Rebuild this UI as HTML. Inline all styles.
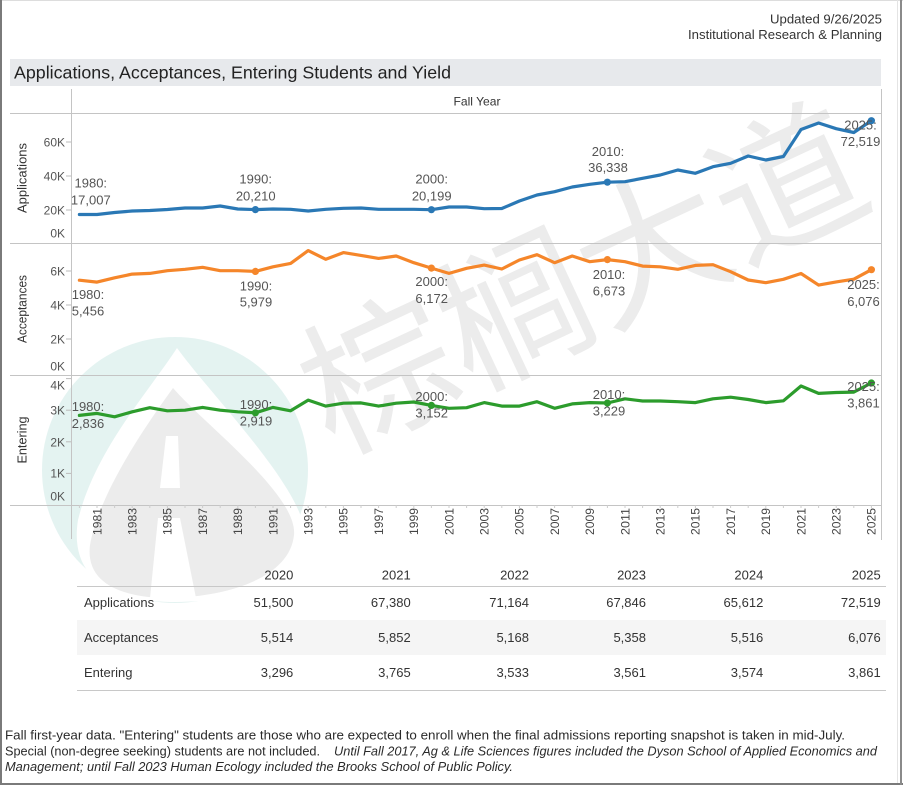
<!DOCTYPE html>
<html><head><meta charset="utf-8"><style>
html,body{margin:0;padding:0;background:#fff;}
svg{display:block;}
text{font-family:"Liberation Sans",Arial,sans-serif;}
</style></head><body>
<svg width="903" height="785" viewBox="0 0 903 785" xmlns="http://www.w3.org/2000/svg">
<rect width="903" height="785" fill="#fff"/>

<!-- logo watermark -->
<g opacity="0.75">
<circle cx="175" cy="470" r="133" fill="#dcefed"/>
<path d="M177,348 C150,390 95,450 78,520 C70,570 100,600 170,602 C240,602 300,585 305,540 C310,495 215,400 177,348 Z" fill="#ffffff"/>
<path d="M173,388 C150,420 100,490 90,545 C85,585 125,598 170,598 C235,596 290,575 294,535 C298,495 205,425 173,388 Z" fill="#e6e6e6"/>
<path d="M166,436 L178,436 L180,488 L160,488 Z" fill="#ffffff"/>
<path d="M158,518 L180,518 L196,598 L150,598 Z" fill="#ffffff"/>
</g>

<!-- text watermark -->
<text x="579" y="270" font-size="150" fill="#ececec" text-anchor="middle" dominant-baseline="central" transform="rotate(-25 579 270)" style="font-family:'Noto Sans CJK SC','WenQuanYi Zen Hei',sans-serif">棕榈大道</text>

<!-- frame -->
<rect x="0" y="0" width="903" height="1" fill="#dddddd"/>
<rect x="0" y="0" width="2" height="785" fill="#7a7a7a"/>
<rect x="0" y="783" width="903" height="2" fill="#7a7a7a"/>
<rect x="897" y="0" width="1" height="783" fill="#e4e4e4"/>
<rect x="900" y="0" width="2" height="785" fill="#8a8a8a"/>

<!-- header -->
<text x="882" y="23.5" font-size="13" fill="#333" text-anchor="end" textLength="112" lengthAdjust="spacingAndGlyphs">Updated 9/26/2025</text>
<text x="882" y="39" font-size="13" fill="#333" text-anchor="end" textLength="194" lengthAdjust="spacingAndGlyphs">Institutional Research &amp; Planning</text>

<rect x="10" y="59" width="871" height="27" fill="#e7e9ec"/>
<text x="14" y="78.5" font-size="17.5" fill="#222" textLength="437" lengthAdjust="spacingAndGlyphs">Applications, Acceptances, Entering Students and Yield</text>

<!-- grid structure -->
<g stroke="#c4c4c4" stroke-width="1" fill="none">
<line x1="71.5" y1="89" x2="71.5" y2="539"/>
<line x1="881.5" y1="89" x2="881.5" y2="540"/>
<line x1="10" y1="113.5" x2="882" y2="113.5"/>
<line x1="10" y1="243.5" x2="882" y2="243.5"/>
<line x1="10" y1="375.5" x2="882" y2="375.5"/>
<line x1="10" y1="505.5" x2="882" y2="505.5"/>
</g>
<text x="477" y="105.3" font-size="12" fill="#333" text-anchor="middle" textLength="47" lengthAdjust="spacingAndGlyphs">Fall Year</text>

<!-- axis titles -->
<text transform="translate(26.5,178) rotate(-90)" font-size="12.5" fill="#333" text-anchor="middle" textLength="70" lengthAdjust="spacingAndGlyphs">Applications</text>
<text transform="translate(26.5,309) rotate(-90)" font-size="12.5" fill="#333" text-anchor="middle" textLength="68" lengthAdjust="spacingAndGlyphs">Acceptances</text>
<text transform="translate(26.5,440) rotate(-90)" font-size="12.5" fill="#333" text-anchor="middle" textLength="47" lengthAdjust="spacingAndGlyphs">Entering</text>

<!-- y ticks -->
<g stroke="#bbb" stroke-width="1">
<line x1="66" y1="142" x2="71" y2="142"/><line x1="66" y1="176" x2="71" y2="176"/><line x1="66" y1="210" x2="71" y2="210"/>
<line x1="66" y1="271" x2="71" y2="271"/><line x1="66" y1="305" x2="71" y2="305"/><line x1="66" y1="339" x2="71" y2="339"/>
<line x1="66" y1="378.6" x2="71" y2="378.6"/><line x1="66" y1="410.2" x2="71" y2="410.2"/><line x1="66" y1="441.8" x2="71" y2="441.8"/><line x1="66" y1="473.4" x2="71" y2="473.4"/>
</g>
<g font-size="12" fill="#555" text-anchor="end">
<text x="65" y="146.3">60K</text><text x="65" y="180.3">40K</text><text x="65" y="214.3">20K</text><text x="65" y="237.3">0K</text>
<text x="65" y="275.3">6K</text><text x="65" y="309.3">4K</text><text x="65" y="343.3">2K</text><text x="65" y="370.3">0K</text>
<text x="65" y="389.3">4K</text><text x="65" y="414.3">3K</text><text x="65" y="446.3">2K</text><text x="65" y="477.6">1K</text><text x="65" y="500.3">0K</text>
</g>

<!-- x ticks -->
<g stroke="#ccc" stroke-width="1">
<line x1="79.4" y1="505" x2="79.4" y2="508"/><line x1="97" y1="505" x2="97" y2="508"/><line x1="114.6" y1="505" x2="114.6" y2="508"/><line x1="132.2" y1="505" x2="132.2" y2="508"/><line x1="149.8" y1="505" x2="149.8" y2="508"/><line x1="167.4" y1="505" x2="167.4" y2="508"/><line x1="185" y1="505" x2="185" y2="508"/><line x1="202.6" y1="505" x2="202.6" y2="508"/><line x1="220.2" y1="505" x2="220.2" y2="508"/><line x1="237.8" y1="505" x2="237.8" y2="508"/><line x1="255.4" y1="505" x2="255.4" y2="508"/><line x1="273" y1="505" x2="273" y2="508"/><line x1="290.6" y1="505" x2="290.6" y2="508"/><line x1="308.2" y1="505" x2="308.2" y2="508"/><line x1="325.8" y1="505" x2="325.8" y2="508"/><line x1="343.4" y1="505" x2="343.4" y2="508"/><line x1="361" y1="505" x2="361" y2="508"/><line x1="378.6" y1="505" x2="378.6" y2="508"/><line x1="396.2" y1="505" x2="396.2" y2="508"/><line x1="413.8" y1="505" x2="413.8" y2="508"/><line x1="431.4" y1="505" x2="431.4" y2="508"/><line x1="449" y1="505" x2="449" y2="508"/><line x1="466.6" y1="505" x2="466.6" y2="508"/><line x1="484.2" y1="505" x2="484.2" y2="508"/><line x1="501.8" y1="505" x2="501.8" y2="508"/><line x1="519.4" y1="505" x2="519.4" y2="508"/><line x1="537" y1="505" x2="537" y2="508"/><line x1="554.6" y1="505" x2="554.6" y2="508"/><line x1="572.2" y1="505" x2="572.2" y2="508"/><line x1="589.8" y1="505" x2="589.8" y2="508"/><line x1="607.4" y1="505" x2="607.4" y2="508"/><line x1="625" y1="505" x2="625" y2="508"/><line x1="642.6" y1="505" x2="642.6" y2="508"/><line x1="660.2" y1="505" x2="660.2" y2="508"/><line x1="677.8" y1="505" x2="677.8" y2="508"/><line x1="695.4" y1="505" x2="695.4" y2="508"/><line x1="713" y1="505" x2="713" y2="508"/><line x1="730.6" y1="505" x2="730.6" y2="508"/><line x1="748.2" y1="505" x2="748.2" y2="508"/><line x1="765.8" y1="505" x2="765.8" y2="508"/><line x1="783.4" y1="505" x2="783.4" y2="508"/><line x1="801" y1="505" x2="801" y2="508"/><line x1="818.6" y1="505" x2="818.6" y2="508"/><line x1="836.2" y1="505" x2="836.2" y2="508"/><line x1="853.8" y1="505" x2="853.8" y2="508"/><line x1="871.4" y1="505" x2="871.4" y2="508"/>
</g>
<g font-size="12" fill="#444">
<text transform="translate(101.3,535) rotate(-90)" textLength="27" lengthAdjust="spacingAndGlyphs">1981</text>
<text transform="translate(136.5,535) rotate(-90)" textLength="27" lengthAdjust="spacingAndGlyphs">1983</text>
<text transform="translate(171.7,535) rotate(-90)" textLength="27" lengthAdjust="spacingAndGlyphs">1985</text>
<text transform="translate(206.9,535) rotate(-90)" textLength="27" lengthAdjust="spacingAndGlyphs">1987</text>
<text transform="translate(242.1,535) rotate(-90)" textLength="27" lengthAdjust="spacingAndGlyphs">1989</text>
<text transform="translate(277.3,535) rotate(-90)" textLength="27" lengthAdjust="spacingAndGlyphs">1991</text>
<text transform="translate(312.5,535) rotate(-90)" textLength="27" lengthAdjust="spacingAndGlyphs">1993</text>
<text transform="translate(347.7,535) rotate(-90)" textLength="27" lengthAdjust="spacingAndGlyphs">1995</text>
<text transform="translate(382.9,535) rotate(-90)" textLength="27" lengthAdjust="spacingAndGlyphs">1997</text>
<text transform="translate(418.1,535) rotate(-90)" textLength="27" lengthAdjust="spacingAndGlyphs">1999</text>
<text transform="translate(453.3,535) rotate(-90)" textLength="27" lengthAdjust="spacingAndGlyphs">2001</text>
<text transform="translate(488.5,535) rotate(-90)" textLength="27" lengthAdjust="spacingAndGlyphs">2003</text>
<text transform="translate(523.7,535) rotate(-90)" textLength="27" lengthAdjust="spacingAndGlyphs">2005</text>
<text transform="translate(558.9,535) rotate(-90)" textLength="27" lengthAdjust="spacingAndGlyphs">2007</text>
<text transform="translate(594.1,535) rotate(-90)" textLength="27" lengthAdjust="spacingAndGlyphs">2009</text>
<text transform="translate(629.3,535) rotate(-90)" textLength="27" lengthAdjust="spacingAndGlyphs">2011</text>
<text transform="translate(664.5,535) rotate(-90)" textLength="27" lengthAdjust="spacingAndGlyphs">2013</text>
<text transform="translate(699.7,535) rotate(-90)" textLength="27" lengthAdjust="spacingAndGlyphs">2015</text>
<text transform="translate(734.9,535) rotate(-90)" textLength="27" lengthAdjust="spacingAndGlyphs">2017</text>
<text transform="translate(770.1,535) rotate(-90)" textLength="27" lengthAdjust="spacingAndGlyphs">2019</text>
<text transform="translate(805.3,535) rotate(-90)" textLength="27" lengthAdjust="spacingAndGlyphs">2021</text>
<text transform="translate(840.5,535) rotate(-90)" textLength="27" lengthAdjust="spacingAndGlyphs">2023</text>
<text transform="translate(875.7,535) rotate(-90)" textLength="27" lengthAdjust="spacingAndGlyphs">2025</text>
</g>

<!-- series -->
<g fill="none" stroke-width="3.2" stroke-linejoin="round" stroke-linecap="round">
<polyline stroke="#2a78b5" points="79.4,214.5 97,214.5 114.6,212.5 132.2,211 149.8,210.5 167.4,209.5 185,208 202.6,208 220.2,206 237.8,209 255.4,209.6 273,209 290.6,209.3 308.2,211 325.8,209.3 343.4,208.3 361,208 378.6,209.3 396.2,209.3 413.8,209.3 431.4,209.7 449,207 466.6,207 484.2,208.7 501.8,208.5 519.4,201 537,195 554.6,191.7 572.2,187 589.8,184.3 607.4,182.2 625,181.7 642.6,178.3 660.2,175 677.8,170 695.4,173.3 713,166.7 730.6,163.3 748.2,156 765.8,160 783.4,156.5 801,129.5 818.6,123 836.2,128.7 853.8,132.5 871.4,120.7"/>
<polyline stroke="#f5862a" points="79.4,280.2 97,282.1 114.6,277.8 132.2,274.1 149.8,273.4 167.4,270.7 185,269.3 202.6,267.3 220.2,270.7 237.8,270.7 255.4,271.4 273,266.8 290.6,263.4 308.2,250.6 325.8,259.3 343.4,252.6 361,255.4 378.6,258.4 396.2,256 413.8,262.7 431.4,268.1 449,273.4 466.6,268.3 484.2,265.1 501.8,269 519.4,260 537,254.7 554.6,262.7 572.2,256 589.8,261.7 607.4,259.6 625,261.7 642.6,266.1 660.2,266.8 677.8,269.3 695.4,265.4 713,264.7 730.6,271.7 748.2,280 765.8,282.7 783.4,279.3 801,273.5 818.6,285.1 836.2,281.9 853.8,279.2 871.4,269.7"/>
<polyline stroke="#2c9c2c" points="79.4,415.4 97,413.4 114.6,416.8 132.2,411.8 149.8,407.7 167.4,410.8 185,410.2 202.6,407.4 220.2,410.2 237.8,411.8 255.4,412.8 273,407.4 290.6,410.8 308.2,400.1 325.8,406.1 343.4,403.2 361,402.9 378.6,406.1 396.2,403.2 413.8,402 431.4,405.4 449,408.3 466.6,407.7 484.2,402.6 501.8,406.1 519.4,406.1 537,401.7 554.6,408.3 572.2,403.9 589.8,402.6 607.4,403 625,398.8 642.6,401 660.2,401 677.8,401.7 695.4,402.6 713,398.8 730.6,397.2 748.2,399.5 765.8,402.6 783.4,400.8 801,386 818.6,393.4 836.2,392.5 853.8,392.1 871.4,383"/>
</g>
<g fill="#2a78b5"><circle cx="255.4" cy="209.6" r="3.6"/><circle cx="431.4" cy="209.7" r="3.6"/><circle cx="607.4" cy="182.2" r="3.6"/><circle cx="871.4" cy="120.7" r="3.6"/></g>
<g fill="#f5862a"><circle cx="255.4" cy="271.4" r="3.6"/><circle cx="431.4" cy="268.1" r="3.6"/><circle cx="607.4" cy="259.6" r="3.6"/><circle cx="871.4" cy="269.7" r="3.6"/></g>
<g fill="#2c9c2c"><circle cx="255.4" cy="412.8" r="3.6"/><circle cx="431.4" cy="405.4" r="3.6"/><circle cx="607.4" cy="403" r="3.6"/><circle cx="871.4" cy="383" r="3.6"/></g>

<!-- data labels -->
<g font-size="13" fill="#555" text-anchor="middle">
<text x="90.8" y="187.5">1980:</text><text x="90.8" y="204.5">17,007</text>
<text x="255.7" y="183.5">1990:</text><text x="255.7" y="200.5">20,210</text>
<text x="431.7" y="183.5">2000:</text><text x="431.7" y="200.5">20,199</text>
<text x="608" y="156">2010:</text><text x="608" y="172">36,338</text>
<text x="860.5" y="129.7">2025:</text><text x="860.5" y="146">72,519</text>

<text x="88" y="298.8">1980:</text><text x="88" y="315.5">5,456</text>
<text x="256" y="290.5">1990:</text><text x="256" y="306.5">5,979</text>
<text x="431.7" y="286.2">2000:</text><text x="431.7" y="302.8">6,172</text>
<text x="609" y="278.8">2010:</text><text x="609" y="295.5">6,673</text>
<text x="863.5" y="288.8">2025:</text><text x="863.5" y="305.8">6,076</text>

<text x="88" y="411.2">1980:</text><text x="88" y="427.8">2,836</text>
<text x="256" y="408.8">1990:</text><text x="256" y="425.5">2,919</text>
<text x="431.7" y="400.8">2000:</text><text x="431.7" y="417.5">3,152</text>
<text x="609" y="398.8">2010:</text><text x="609" y="415.5">3,229</text>
<text x="863.5" y="391.2">2025:</text><text x="863.5" y="407.5">3,861</text>
</g>

<!-- table -->
<rect x="77" y="620" width="809" height="35" fill="#f5f5f5"/>
<line x1="77" y1="586.5" x2="886" y2="586.5" stroke="#c8c8c8" stroke-width="1"/>
<line x1="77" y1="690.5" x2="886" y2="690.5" stroke="#c8c8c8" stroke-width="1"/>
<g font-size="13" fill="#333" text-anchor="end">
<text x="293.3" y="579.5">2020</text><text x="410.7" y="579.5">2021</text><text x="529" y="579.5">2022</text><text x="646" y="579.5">2023</text><text x="763.3" y="579.5">2024</text><text x="880.7" y="579.5">2025</text>
<text x="293.3" y="607">51,500</text><text x="410.7" y="607">67,380</text><text x="529" y="607">71,164</text><text x="646" y="607">67,846</text><text x="763.3" y="607">65,612</text><text x="880.7" y="607">72,519</text>
<text x="293.3" y="642">5,514</text><text x="410.7" y="642">5,852</text><text x="529" y="642">5,168</text><text x="646" y="642">5,358</text><text x="763.3" y="642">5,516</text><text x="880.7" y="642">6,076</text>
<text x="293.3" y="677">3,296</text><text x="410.7" y="677">3,765</text><text x="529" y="677">3,533</text><text x="646" y="677">3,561</text><text x="763.3" y="677">3,574</text><text x="880.7" y="677">3,861</text>
</g>
<g font-size="13" fill="#333">
<text x="84" y="607">Applications</text>
<text x="84" y="642">Acceptances</text>
<text x="84" y="677">Entering</text>
</g>

<!-- footer -->
<g font-size="12.5" fill="#2a2a2a">
<text x="5" y="739.5" textLength="840" lengthAdjust="spacingAndGlyphs">Fall first-year  data.  "Entering" students are those who are expected to enroll when the final admissions reporting snapshot is taken in mid-July.</text>
<text x="5" y="755.5" textLength="315" lengthAdjust="spacingAndGlyphs">Special (non-degree seeking) students are not included.</text>
<text x="334" y="755.5" font-style="italic" textLength="543" lengthAdjust="spacingAndGlyphs">Until Fall 2017, Ag &amp; Life Sciences figures included the Dyson School of Applied Economics and</text>
<text x="5" y="771" font-style="italic" textLength="508" lengthAdjust="spacingAndGlyphs">Management; until Fall 2023 Human Ecology included the Brooks School of Public Policy.</text>
</g>
</svg>
</body></html>
